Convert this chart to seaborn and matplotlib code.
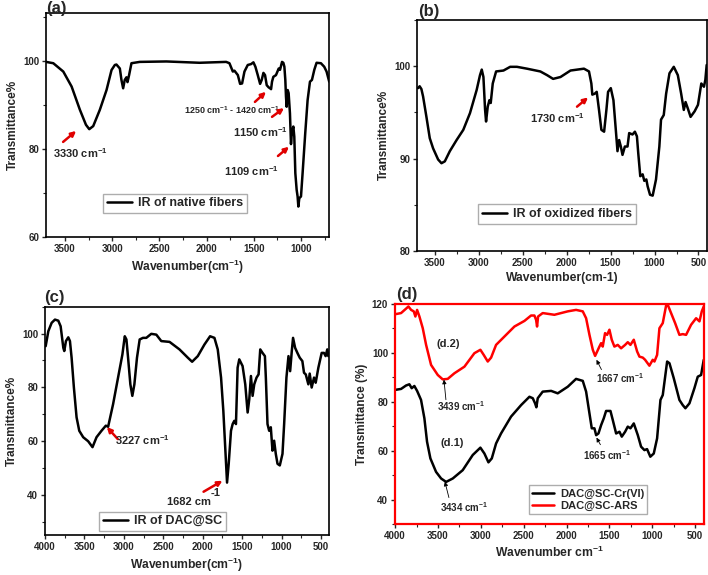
import numpy as np
import pandas as pd
import matplotlib
matplotlib.use("Agg")
import matplotlib.pyplot as plt
from matplotlib.ticker import MultipleLocator
import seaborn as sns

# --- data (axis units: wavenumber, transmittance) ---
a_wn = [3700, 3623, 3517, 3429, 3341, 3277, 3242, 3200, 3130, 3059, 3006, 2971, 2954, 2918, 2901,
        2883, 2866, 2848, 2837, 2820, 2795, 2707, 2425, 2073, 1792, 1757, 1721, 1704, 1668, 1644,
        1623, 1598, 1563, 1528, 1503, 1482, 1457, 1432, 1415, 1397, 1380, 1362, 1341, 1327, 1316,
        1306, 1292, 1264, 1235, 1221, 1200, 1186, 1175, 1165, 1158, 1151, 1140, 1130, 1116, 1105,
        1095, 1080, 1070, 1059, 1045, 1035, 1027, 1017, 999, 982, 954, 929, 904, 883, 858,
        834, 788, 753, 728, 700]
a_tr = [99.8, 99.5, 97.6, 94.2, 88.9, 85.5, 84.5, 85.2, 88.9, 93.4, 97.95, 99.1, 99.2, 98.3, 95.7,
        93.8, 95.7, 96.3, 95.2, 96.8, 99.5, 99.8, 99.9, 99.6, 99.8, 99.5, 97.6, 97.8, 96.8, 94.8,
        94.9, 97.6, 99.1, 99.3, 99.7, 98.7, 96.8, 94.8, 95.7, 97.3, 96.8, 94.5, 94.0, 93.8, 93.6,
        95.3, 96.4, 96.8, 98.3, 98.0, 99.8, 99.6, 98.7, 95.7, 91.9, 89.6, 93.4, 92.7, 88.1, 81.1,
        83.9, 85.1, 82.8, 74.5, 70.7, 69.2, 66.9, 68.8, 69.2, 74.5, 83.6, 91.1, 95.3, 95.7, 98.0,
        99.6, 99.5, 98.7, 97.6, 95.3]

b_wn = [3689, 3670, 3650, 3631, 3593, 3555, 3517, 3460, 3422, 3384, 3327, 3250, 3174, 3098, 3022,
        2984, 2964, 2945, 2926, 2915, 2896, 2877, 2862, 2839, 2801, 2717, 2641, 2564, 2450, 2298,
        2221, 2153, 2069, 1955, 1802, 1745, 1718, 1707, 1680, 1657, 1631, 1604, 1573, 1547, 1528,
        1497, 1467, 1440, 1421, 1402, 1383, 1364, 1337, 1307, 1288, 1250, 1223, 1200, 1185, 1162,
        1135, 1116, 1093, 1078, 1051, 1021, 983, 945, 926, 895, 868, 830, 781, 735, 697,
        667, 647, 621, 590, 544, 506, 468, 438, 422, 407]
b_tr = [97.6, 97.8, 97.5, 96.7, 94.5, 92.2, 91.1, 89.9, 89.5, 89.7, 90.8, 92.0, 93.1, 94.9, 97.4,
        99.0, 99.6, 98.8, 95.25, 94.0, 95.6, 96.3, 96.0, 98.1, 99.4, 99.5, 99.9, 99.9, 99.7, 99.4,
        99.0, 98.6, 98.8, 99.5, 99.7, 99.4, 98.1, 96.9, 97.0, 97.2, 95.25, 93.1, 92.9, 95.25, 97.2,
        97.6, 96.3, 93.1, 90.8, 92.0, 91.3, 90.4, 91.3, 91.3, 92.75, 92.6, 92.9, 92.4, 90.6, 88.1,
        88.3, 87.6, 87.75, 87.0, 86.1, 86.0, 87.75, 91.3, 94.2, 94.7, 97.0, 99.2, 99.9, 99.0, 97.0,
        95.25, 96.1, 95.4, 94.5, 95.1, 95.8, 98.1, 97.75, 98.5, 100.1]

c_wn = [3992, 3958, 3916, 3874, 3832, 3802, 3768, 3756, 3735, 3705, 3684, 3663, 3634, 3600, 3566,
        3516, 3453, 3398, 3347, 3284, 3229, 3200, 3137, 3074, 3019, 2989, 2968, 2947, 2918, 2893,
        2867, 2834, 2800, 2758, 2716, 2653, 2589, 2526, 2421, 2295, 2189, 2135, 2063, 1979, 1907,
        1852, 1810, 1768, 1739, 1713, 1692, 1671, 1642, 1621, 1600, 1579, 1558, 1537, 1495, 1461,
        1431, 1410, 1389, 1368, 1347, 1318, 1292, 1271, 1242, 1212, 1200, 1179, 1158, 1137, 1116,
        1095, 1074, 1052, 1023, 989, 968, 939, 913, 892, 871, 855, 829, 800, 770, 737,
        716, 694, 661, 644, 619, 589, 568, 534, 492, 463, 442, 421, 408]
c_tr = [95.3, 100.9, 104.0, 105.2, 104.8, 102.7, 94.7, 93.5, 97.2, 98.6, 97.2, 91.0, 79.9, 68.8, 63.8,
        61.4, 59.9, 57.7, 61.4, 63.8, 65.7, 65.3, 73.7, 83.6, 92.2, 99.0, 97.8, 91.0, 81.1, 76.8,
        81.1, 91.0, 97.8, 98.4, 98.4, 99.9, 99.6, 97.2, 96.9, 94.1, 91.0, 89.5, 91.6, 95.9, 99.0,
        98.4, 94.1, 83.6, 71.2, 56.4, 44.5, 51.5, 63.8, 66.3, 67.5, 66.3, 87.3, 90.4, 87.9, 81.1,
        70.6, 75.6, 84.2, 76.8, 81.1, 83.6, 84.8, 94.1, 92.8, 91.6, 83.6, 66.3, 63.8, 65.1, 56.4,
        60.1, 55.2, 51.5, 50.9, 55.2, 66.3, 83.6, 91.6, 86.0, 93.5, 98.4, 94.7, 92.8, 91.0, 89.75,
        85.4, 84.8, 81.1, 85.1, 79.9, 83.6, 81.7, 87.3, 92.8, 92.8, 91.6, 94.1, 91.6]

d2_wn = [3988, 3930, 3872, 3844, 3813, 3782, 3763, 3743, 3716, 3677, 3638, 3580, 3502, 3444, 3386,
         3308, 3191, 3075, 3005, 2966, 2919, 2880, 2822, 2725, 2608, 2491, 2414, 2375, 2355, 2344,
         2332, 2278, 2142, 1986, 1889, 1811, 1772, 1733, 1694, 1667, 1643, 1617, 1597, 1578, 1551,
         1527, 1500, 1473, 1442, 1403, 1364, 1317, 1286, 1255, 1216, 1177, 1150, 1111, 1084, 1034,
         995, 975, 944, 917, 878, 839, 820, 781, 734, 684, 645, 606, 548, 489, 450, 423, 400]
d2_tr = [115.8, 116.2, 118.0, 118.9, 117.5, 116.9, 114.8, 117.5, 114.8, 110.0, 103.2, 95.0, 90.9, 89.1, 89.3,
         91.6, 94.3, 99.8, 101.2, 99.1, 96.4, 98.0, 103.2, 106.6, 110.7, 113.0, 115.2, 115.2, 113.4, 110.7,
         114.8, 116.2, 115.5, 116.9, 117.5, 116.9, 114.1, 107.3, 101.2, 98.7, 100.5, 102.5, 103.9, 102.5, 108.0,
         107.3, 109.4, 105.3, 102.5, 103.2, 101.8, 103.2, 104.3, 103.2, 105.3, 100.5, 98.4, 98.0, 97.1, 94.7,
         97.1, 96.4, 99.1, 110.0, 112.1, 119.3, 119.6, 116.2, 112.1, 107.3, 107.6, 107.3, 111.4, 114.1, 112.8, 116.9, 118.9]

d1_wn = [4000, 3930, 3872, 3833, 3806, 3775, 3743, 3697, 3658, 3627, 3588, 3522, 3463, 3405, 3327,
         3211, 3094, 3005, 2958, 2911, 2872, 2822, 2764, 2647, 2530, 2433, 2394, 2367, 2352, 2336,
         2278, 2180, 2103, 1986, 1889, 1811, 1772, 1733, 1706, 1675, 1655, 1628, 1597, 1566, 1539,
         1488, 1461, 1422, 1383, 1356, 1317, 1286, 1255, 1216, 1169, 1131, 1092, 1061, 1023, 983,
         944, 905, 878, 827, 800, 750, 684, 645, 614, 567, 509, 470, 431, 400]
d1_tr = [84.8, 85.2, 86.6, 87.1, 85.5, 86.4, 84.4, 80.7, 73.2, 63.6, 56.8, 51.3, 48.6, 47.2, 48.6,
         52.0, 58.2, 61.2, 58.8, 55.2, 56.8, 62.9, 67.0, 73.9, 78.6, 82.0, 81.4, 79.3, 77.7, 81.4,
         84.1, 84.4, 83.4, 86.1, 89.3, 88.5, 84.1, 75.2, 69.1, 69.1, 66.3, 67.0, 70.4, 73.2, 76.2,
         76.2, 72.5, 67.0, 67.7, 65.7, 67.7, 69.8, 69.1, 71.1, 66.3, 61.6, 60.2, 60.6, 57.5, 58.8,
         65.0, 80.7, 82.7, 96.4, 95.7, 89.6, 80.7, 78.6, 77.3, 79.3, 85.5, 90.2, 90.9, 97.1]

sns.set_style("ticks")
plt.rcParams['font.family'] = ['Liberation Sans', 'DejaVu Sans']
plt.rcParams['font.weight'] = 'bold'
plt.rcParams['axes.labelweight'] = 'bold'
plt.rcParams['mathtext.fontset'] = 'custom'
plt.rcParams['mathtext.rm'] = 'Liberation Sans:bold'
plt.rcParams['mathtext.bf'] = 'Liberation Sans:bold'
plt.rcParams['mathtext.default'] = 'bf'

fig = plt.figure(figsize=(7.08, 5.75), dpi=100)
ax_a = fig.add_axes([0.065, 0.588, 0.400, 0.390])
ax_b = fig.add_axes([0.589, 0.563, 0.410, 0.403])
ax_c = fig.add_axes([0.0636, 0.0696, 0.401, 0.397])
ax_d = fig.add_axes([0.558, 0.0887, 0.436, 0.383])

LW = 1.8
df_a = pd.DataFrame({"wn": a_wn, "T": a_tr})
df_b = pd.DataFrame({"wn": b_wn, "T": b_tr})
df_c = pd.DataFrame({"wn": c_wn, "T": c_tr})
df_d1 = pd.DataFrame({"wn": d1_wn, "T": d1_tr})
df_d2 = pd.DataFrame({"wn": d2_wn, "T": d2_tr})

sns.lineplot(data=df_a, x="wn", y="T", ax=ax_a, color="black", lw=LW, label="IR of native fibers")
sns.lineplot(data=df_b, x="wn", y="T", ax=ax_b, color="black", lw=LW, label="IR of oxidized fibers")
sns.lineplot(data=df_c, x="wn", y="T", ax=ax_c, color="black", lw=LW, label="IR of DAC@SC")
sns.lineplot(data=df_d1, x="wn", y="T", ax=ax_d, color="black", lw=LW, label="DAC@SC-Cr(VI)")
sns.lineplot(data=df_d2, x="wn", y="T", ax=ax_d, color="#ff0000", lw=LW, label="DAC@SC-ARS")

setup = [
    (ax_a, (3700, 700), (60, 111), 20, 10, "Wavenumber(cm$^{-1}$)", "Transmittance%", (0.456, 0.15), 9),
    (ax_b, (3700, 400), (80, 105), 10, 5, "Wavenumber(cm-1)", "Transmittance%", (0.483, 0.16), 9),
    (ax_c, (4000, 400), (25, 110), 20, 10, "Wavenumber(cm$^{-1}$)", "Transmittance%", (0.415, 0.06), 9),
    (ax_d, (4000, 400), (30, 120), 20, 10, "Wavenumber cm$^{-1}$", "Transmittance (%)", (0.625, 0.11), 8),
]
for ax, xl, yl, ymaj, ymin, xlab, ylab, leg, lfs in setup:
    ax.set_xlim(*xl)
    ax.set_ylim(*yl)
    ax.xaxis.set_major_locator(MultipleLocator(500))
    ax.xaxis.set_minor_locator(MultipleLocator(250))
    ax.yaxis.set_major_locator(MultipleLocator(ymaj))
    ax.yaxis.set_minor_locator(MultipleLocator(ymin))
    ax.tick_params(which="major", direction="out", length=3, width=1, labelsize=7, pad=2)
    ax.tick_params(which="minor", direction="out", length=2, width=0.8)
    for lab in ax.get_xticklabels() + ax.get_yticklabels():
        lab.set_fontweight("bold")
    ax.set_xlabel(xlab, fontsize=8.7, fontweight="bold", labelpad=3)
    ax.set_ylabel(ylab, fontsize=8.5, fontweight="bold", labelpad=3)
    for sp in ax.spines.values():
        sp.set_visible(True)
        sp.set_linewidth(1.2)
        sp.set_color("black")
    ax.legend(loc="center", bbox_to_anchor=leg, prop={"weight": "bold", "size": lfs},
              frameon=True, fancybox=False, edgecolor="#999999", handlelength=2.0,
              borderpad=0.3, labelspacing=0.2, handletextpad=0.5)

for sp in ax_d.spines.values():
    sp.set_color("#ff0000")
    sp.set_linewidth(1.6)

# panel letters
fig.text(0.065, 0.986, "(a)", fontsize=12, fontweight="bold", va="center")
fig.text(0.590, 0.980, "(b)", fontsize=12, fontweight="bold", va="center")
fig.text(0.063, 0.482, "(c)", fontsize=12, fontweight="bold", va="center")
fig.text(0.559, 0.487, "(d)", fontsize=12, fontweight="bold", va="center")

red_arrow = dict(arrowstyle="-|>", color="#e00000", lw=1.8, mutation_scale=7, shrinkA=0, shrinkB=0)
thin_arrow = dict(arrowstyle="-|>", color="black", lw=0.6, mutation_scale=6, shrinkA=0, shrinkB=0)
fs = 8

# (a)
ax_a.annotate("", xy=(3381, 84.1), xytext=(3519, 81.6), arrowprops=red_arrow)
ax_a.text(3625, 79.1, "3330 cm$^{-1}$", fontsize=fs, fontweight="bold", va="center")
ax_a.annotate("", xy=(1370, 93.0), xytext=(1487, 90.7), arrowprops=red_arrow)
ax_a.text(2243, 88.9, "1250 cm$^{-1}$ - 1420 cm$^{-1}$", fontsize=6.5, fontweight="bold", va="center")
ax_a.annotate("", xy=(1179, 89.3), xytext=(1306, 87.3), arrowprops=red_arrow)
ax_a.text(1721, 83.9, "1150 cm$^{-1}$", fontsize=fs, fontweight="bold", va="center")
ax_a.annotate("", xy=(1126, 80.5), xytext=(1243, 78.4), arrowprops=red_arrow)
ax_a.text(1817, 75.0, "1109 cm$^{-1}$", fontsize=fs, fontweight="bold", va="center")

# (b)
ax_b.annotate("", xy=(1755, 96.6), xytext=(1881, 95.6), arrowprops=red_arrow)
ax_b.text(2418, 94.4, "1730 cm$^{-1}$", fontsize=fs, fontweight="bold", va="center")

# (c)
ax_c.annotate("", xy=(3216, 65.2), xytext=(3077, 60.7), arrowprops=red_arrow)
ax_c.text(3115, 60.4, "3227 cm$^{-1}$", fontsize=fs, fontweight="bold", va="center")
ax_c.annotate("", xy=(1750, 45.2), xytext=(1990, 41.1), arrowprops=red_arrow)
ax_c.text(2458, 37.4, "1682 cm", fontsize=fs, fontweight="bold", va="center")
ax_c.text(1905, 40.7, "-1", fontsize=fs, fontweight="bold", va="center")

# (d)
ax_d.text(3512, 103.7, "(d.2)", fontsize=fs, fontweight="bold", va="center")
ax_d.text(3465, 62.9, "(d.1)", fontsize=fs, fontweight="bold", va="center")
ax_d.annotate("", xy=(3430, 89.0), xytext=(3407, 80.8), arrowprops=thin_arrow)
ax_d.text(3512, 78.0, "3439 cm$^{-1}$", fontsize=7, fontweight="bold", va="center")
ax_d.annotate("", xy=(3419, 47.3), xytext=(3372, 40.8), arrowprops=thin_arrow)
ax_d.text(3477, 37.1, "3434 cm$^{-1}$", fontsize=7, fontweight="bold", va="center")
ax_d.annotate("", xy=(1651, 97.1), xytext=(1593, 93.1), arrowprops=thin_arrow)
ax_d.text(1651, 89.8, "1667 cm$^{-1}$", fontsize=7, fontweight="bold", va="center")
ax_d.annotate("", xy=(1651, 65.3), xytext=(1605, 62.4), arrowprops=thin_arrow)
ax_d.text(1814, 58.0, "1665 cm$^{-1}$", fontsize=7, fontweight="bold", va="center")

fig.savefig("out.png", dpi=100, facecolor="white")
